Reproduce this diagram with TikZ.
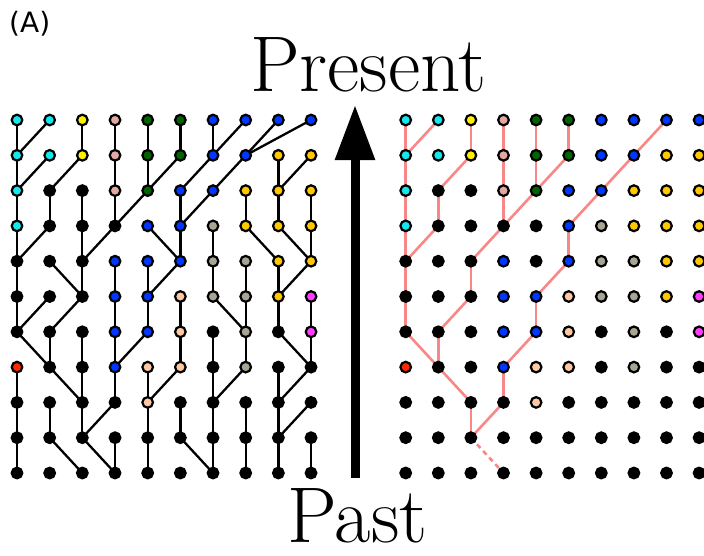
\documentclass[tikz,border=0pt]{standalone}
\usepackage{fontspec}
\usetikzlibrary{arrows.meta,backgrounds}
\newfontfamily\panelfont{DejaVu Sans}

% individual colours
\colorlet{k}{black}
\definecolor{cy}{RGB}{20,232,238}
\definecolor{ye}{RGB}{255,240,0}
\definecolor{pk}{RGB}{226,168,162}
\definecolor{gr}{RGB}{0,100,0}
\definecolor{bl}{RGB}{0,55,255}
\definecolor{go}{RGB}{255,200,0}
\definecolor{gy}{RGB}{168,166,146}
\definecolor{pe}{RGB}{255,200,165}
\definecolor{mg}{RGB}{255,60,255}
\definecolor{rd}{RGB}{255,40,0}
\definecolor{lineagecol}{RGB}{250,135,135}

\begin{document}
\begin{tikzpicture}[x=1pt,y=-1pt,
  dot/.style={circle,draw=black,line width=2.2pt,inner sep=0pt,minimum size=10.6pt},
  tree/.style={line width=2.3pt,black},
  lineage/.style={line width=2.6pt,lineagecol},
  bigtext/.style={font=\fontsize{79}{79}\selectfont,inner sep=0pt,anchor=base}]
\useasboundingbox (0,0) rectangle (704,555);

% generations, present at the top; left: full population
\foreach \row [count=\r] in {
  {cy,cy,ye,pk,gr,gr,bl,bl,bl,bl},
  {cy,cy,ye,pk,gr,gr,bl,bl,go,go},
  {cy,k,k,pk,gr,bl,bl,go,go,go},
  {cy,k,k,k,bl,bl,gy,go,go,go},
  {k,k,k,bl,bl,bl,gy,gy,go,go},
  {k,k,k,bl,bl,pe,gy,gy,go,mg},
  {k,k,k,bl,bl,pe,k,gy,k,mg},
  {rd,k,k,bl,pe,pe,k,gy,k,k},
  {k,k,k,k,pe,k,k,k,k,k},
  {k,k,k,k,k,k,k,k,k,k},
  {k,k,k,k,k,k,k,k,k,k}} {
  \foreach \col [count=\c] in \row {
    \node[dot,fill=\col] (L-\r-\c) at ({17+(\c-1)*32.67},{120+(\r-1)*35.3}) {};
  }
}

% right: same population, ancestry of the sample
\foreach \row [count=\r] in {
  {cy,cy,ye,pk,gr,gr,bl,bl,bl,bl},
  {cy,cy,ye,pk,gr,gr,bl,bl,go,go},
  {cy,k,k,pk,gr,bl,bl,go,go,go},
  {cy,k,k,k,k,bl,gy,go,go,go},
  {k,k,k,bl,k,bl,gy,gy,go,go},
  {k,k,k,bl,bl,pe,gy,gy,go,mg},
  {k,k,k,bl,bl,pe,k,gy,k,mg},
  {rd,k,k,bl,pe,pe,k,gy,k,k},
  {k,k,k,k,pe,k,k,k,k,k},
  {k,k,k,k,k,k,k,k,k,k},
  {k,k,k,k,k,k,k,k,k,k}} {
  \foreach \col [count=\c] in \row {
    \node[dot,fill=\col] (R-\r-\c) at ({405.7+(\c-1)*32.6},{120+(\r-1)*35.3}) {};
  }
}

\begin{scope}[on background layer]
  % parent of every individual, one list per generation
  \foreach \plist [count=\r] in {
    {1,1,3,4,5,6,7,7,8,8},
    {1,1,2,4,5,5,6,7,9,9},
    {1,2,3,4,4,6,6,8,9,10},
    {1,1,3,3,6,6,7,9,10,10},
    {1,3,3,4,5,5,7,8,9,9},
    {1,1,2,4,5,6,8,8,9,10},
    {2,2,3,4,4,6,7,8,10,10},
    {1,3,3,4,5,5,7,7,9,9},
    {1,2,3,3,5,6,7,8,9,9},
    {1,3,4,4,5,7,7,8,9,10}} {
    \pgfmathtruncatemacro\rn{\r+1}
    \foreach \p [count=\c] in \plist {
      \draw[tree] (L-\r-\c.center) -- (L-\rn-\p.center);
    }
  }
  % traced lineages: generation/individual/parent
  \foreach \r/\c/\p in {1/1/1,1/2/1,1/3/3,1/4/4,1/5/5,1/6/6,1/9/8,
      2/1/1,2/3/2,2/4/4,2/5/5,2/6/5,2/8/7,
      3/1/1,3/2/2,3/4/4,3/5/4,3/7/6,
      4/1/1,4/2/1,4/4/3,4/6/6,
      5/1/1,5/3/3,5/6/5,
      6/1/1,6/3/2,6/5/5,
      7/1/2,7/2/2,7/5/4,
      8/2/3,8/4/4,
      9/3/3,9/4/3} {
    \pgfmathtruncatemacro\rn{\r+1}
    \draw[lineage] (R-\r-\c.center) -- (R-\rn-\p.center);
  }
  \draw[lineage,dash pattern=on 5pt off 4pt] (R-10-3.center) -- (R-11-4.center);
\end{scope}

% time axis
\coordinate (pastend) at (355,478);
\coordinate (presentend) at (355,105);
\draw[line width=9pt,-{Triangle[width=38pt,length=55pt]}] (pastend) -- (presentend);

\node[bigtext] (present) at (368.5,91) {Present};
\node[bigtext] (past) at (357.5,542) {Past};
\node[inner sep=0pt,anchor=west] (panel) at (9,24) {\panelfont\fontsize{28}{32}\selectfont (A)};
\end{tikzpicture}
\end{document}
